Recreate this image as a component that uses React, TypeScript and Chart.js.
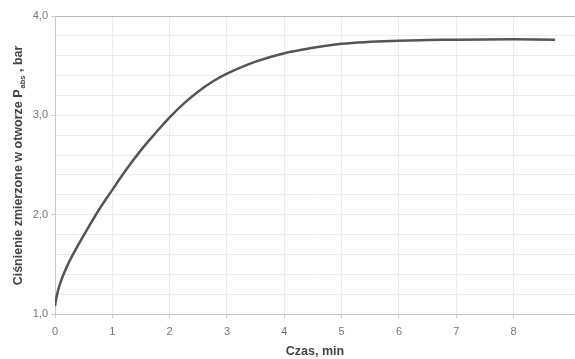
import React, { useEffect, useRef } from "react";
import { Chart, registerables } from "chart.js";

Chart.register(...registerables);

const times = [0, 0.03, 0.08, 0.15, 0.25, 0.4, 0.6, 0.8, 1.0, 1.25, 1.5, 1.75, 2.0, 2.25, 2.5, 2.75, 3.0, 3.5, 4.0, 4.5, 5.0, 5.5, 6.0, 6.5, 7.0, 8.0, 8.72];
const pressures = [1.08, 1.18, 1.29, 1.40, 1.53, 1.69, 1.89, 2.08, 2.25, 2.46, 2.65, 2.82, 2.98, 3.12, 3.24, 3.34, 3.42, 3.54, 3.625, 3.68, 3.72, 3.74, 3.752, 3.758, 3.762, 3.765, 3.762];
const xTicks = [0, 1, 2, 3, 4, 5, 6, 7, 8];
const yTicks = [1.0, 1.2, 1.4, 1.6, 1.8, 2.0, 2.2, 2.4, 2.6, 2.8, 3.0, 3.2, 3.4, 3.6, 3.8, 4.0];
const yTitleMain = "Ciśnienie zmierzone w otworze P";
const yTitleSub = "abs";
const yTitleEnd = " , bar";
const xTitle = "Czas, min";

const FONT = "'Liberation Sans', Arial, sans-serif";

const yTitlePlugin = {
  id: "yTitle",
  afterDraw(chart: any) {
    const ctx = chart.ctx;
    const area = chart.chartArea;
    ctx.save();
    ctx.translate(22, (area.top + area.bottom) / 2 + 1);
    ctx.rotate(-Math.PI / 2);
    ctx.fillStyle = "#444";
    ctx.textBaseline = "alphabetic";
    const big = `bold 12.5px ${FONT}`;
    const small = `bold 7.5px ${FONT}`;
    ctx.font = big;
    const w1 = ctx.measureText(yTitleMain).width;
    const w3 = ctx.measureText(yTitleEnd).width;
    ctx.font = small;
    const w2 = ctx.measureText(yTitleSub).width;
    const total = w1 + w2 + w3;
    let x = -total / 2;
    ctx.font = big;
    ctx.fillText(yTitleMain, x, 0);
    x += w1;
    ctx.font = small;
    ctx.fillText(yTitleSub, x + 1, 3);
    x += w2 + 1;
    ctx.font = big;
    ctx.fillText(yTitleEnd, x, 0);
    ctx.restore();
  },
};

export default function App() {
  const ref = useRef<HTMLCanvasElement | null>(null);
  useEffect(() => {
    document.body.style.margin = "0";
    if (!ref.current) return;
    const chart = new Chart(ref.current, {
      type: "line",
      data: {
        datasets: [
          {
            data: times.map((t, i) => ({ x: t, y: pressures[i] })),
            borderColor: "#555555",
            borderWidth: 2.5,
            pointRadius: 0,
            tension: 0.4,
            fill: false,
          },
        ],
      },
      options: {
        animation: false,
        responsive: false,
        maintainAspectRatio: false,
        layout: { padding: { top: 16, right: 0, left: 0, bottom: 0 } },
        plugins: { legend: { display: false }, tooltip: { enabled: false } },
        scales: {
          x: {
            type: "linear",
            min: 0,
            max: 9.07,
            afterBuildTicks: (scale: any) => {
              scale.ticks = xTicks.map((v) => ({ value: v }));
            },
            afterFit: (scale: any) => {
              scale.height = 45;
            },
            ticks: {
              color: "#777",
              font: { family: FONT, size: 11 },
              padding: 7,
              maxRotation: 0,
              callback: (v: any) => String(v),
            },
            grid: {
              color: "#ececec",
              tickColor: "#cccccc",
              tickLength: 4,
            },
            border: { color: "#c8c8c8", width: 1 },
            title: {
              display: true,
              text: xTitle,
              color: "#444",
              font: { family: FONT, size: 12.5, weight: "bold" },
              padding: { top: 2, bottom: 0 },
            },
          },
          y: {
            type: "linear",
            min: 1,
            max: 4,
            afterBuildTicks: (scale: any) => {
              scale.ticks = yTicks.map((v) => ({ value: v }));
            },
            afterFit: (scale: any) => {
              scale.width = 55;
            },
            ticks: {
              color: "#777",
              font: { family: FONT, size: 11 },
              padding: 3,
              autoSkip: false,
              callback: (v: any) => {
                const n = Number(v);
                if (Math.abs(n - Math.round(n)) > 1e-6) return "";
                return n.toFixed(1).replace(".", ",");
              },
            },
            grid: {
              color: (c: any) => {
                const v = c.tick ? c.tick.value : 0;
                if (Math.abs(v - 4) < 1e-6) return "#b8b8b8";
                return "#ececec";
              },
              tickColor: (c: any) => {
                const v = c.tick ? c.tick.value : 0;
                return Math.abs(v - Math.round(v)) < 1e-6 ? "#cccccc" : "rgba(0,0,0,0)";
              },
              tickLength: 4,
            },
            border: { color: "#c8c8c8", width: 1 },
            title: { display: false },
          },
        },
      },
      plugins: [yTitlePlugin],
    } as any);
    return () => chart.destroy();
  }, []);
  return (
    <div style={{ width: 575, height: 359 }}>
      <canvas ref={ref} width={575} height={359} style={{ display: "block" }} />
    </div>
  );
}
